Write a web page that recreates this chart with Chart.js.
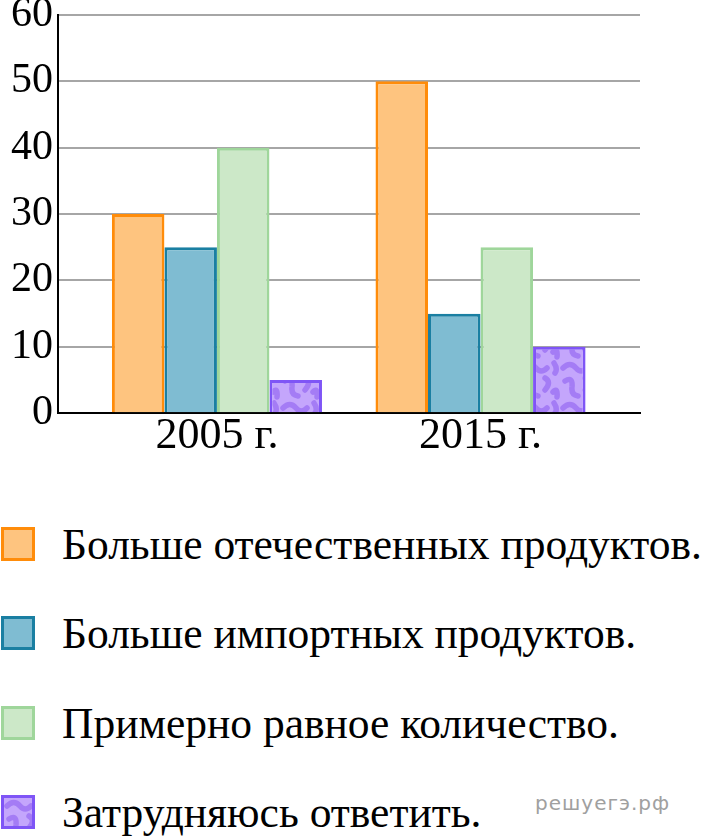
<!DOCTYPE html>
<html lang="ru">
<head>
<meta charset="utf-8">
<title>Опрос: продукты</title>
<script src="https://cdn.jsdelivr.net/npm/chart.js@4.4.1/dist/chart.umd.min.js"></script>
<style>
    body { margin: 0; background: #fff; width: 706px; height: 836px; position: relative; overflow: hidden; font-family: 'Liberation Serif', serif; }
    #chartBox { position: absolute; left: 0; top: 0; width: 706px; height: 452px; }
    #legend { position: absolute; left: 0; top: 499px; }
    .item { display: flex; align-items: center; height: 89.5px; }
    .swatch { box-sizing: border-box; width: 34px; height: 34px; border: 3px solid; margin-left: 1px; margin-right: 27px; }
    .label { font-size: 43.5px; color: #000; white-space: nowrap; }
    #mark { position: absolute; left: 535px; top: 791px; font-family: 'DejaVu Sans', sans-serif; font-size: 20px; color: #a0a0a0; letter-spacing: 1px; }
</style>
</head>
<body>
<div id="chartBox"><canvas id="surveyChart"></canvas></div>
<div id="legend"></div>
<div id="mark">решуегэ.рф</div>
<script>
// data
const years = ['2005 г.', '2015 г.'];
const yearPos = [0, 1];
const seriesNames = [
    'Больше отечественных продуктов.',
    'Больше импортных продуктов.',
    'Примерно равное количество.',
    'Затрудняюсь ответить.'
];
const domestic = [30, 50];
const imported = [25, 15];
const equal = [40, 25];
const unsure = [5, 10];

const serif = "'Liberation Serif', 'Times New Roman', serif";

// squiggly tile for the last series
function makeTile() {
    const tile = document.createElement('canvas');
    tile.width = 40;
    tile.height = 40;
    const c = tile.getContext('2d');
    c.fillStyle = '#c4a6fc';
    c.fillRect(0, 0, 40, 40);
    c.strokeStyle = '#a47cf5';
    c.lineWidth = 5.5;
    c.lineCap = 'round';
    c.lineJoin = 'round';
    c.beginPath();
    c.moveTo(3, 8); c.quadraticCurveTo(10, 1, 16, 8); c.quadraticCurveTo(21, 14, 27, 8);
    c.moveTo(25, 18); c.quadraticCurveTo(32, 22, 25, 30);
    c.moveTo(5, 21); c.quadraticCurveTo(13, 16, 12, 27); c.quadraticCurveTo(11, 35, 18, 36);
    c.moveTo(33, 32); c.quadraticCurveTo(38, 27, 37, 37);
    c.moveTo(34, 3); c.quadraticCurveTo(38, 9, 35, 13);
    c.stroke();
    return tile;
}

function drawChart() {
    const canvas = document.getElementById('surveyChart');
    const ctx = canvas.getContext('2d');
    const tile = makeTile();
    const pattern = ctx.createPattern(tile, 'repeat');

    const fills = ['#fec47f', '#7fbcd2', '#cce8c8', pattern];
    const borders = ['#ff8c0a', '#1a7fa2', '#9fd69b', '#7f55f6'];
    const values = [domestic, imported, equal, unsure];

    const toPoints = arr => yearPos.map((x, i) => ({ x: x, y: arr[i] }));

    const datasets = seriesNames.map((name, i) => ({
        label: name,
        data: toPoints(values[i]),
        backgroundColor: fills[i],
        borderColor: borders[i],
        borderWidth: 3
    }));

    new Chart(ctx, {
        type: 'bar',
        data: { datasets: datasets },
        options: {
            responsive: true,
            maintainAspectRatio: false,
            animation: false,
            layout: { padding: { left: 0, right: 66, top: 15, bottom: 0 } },
            plugins: {
                legend: { display: false },
                tooltip: { enabled: false }
            },
            datasets: {
                bar: { categoryPercentage: 0.797, barPercentage: 1 }
            },
            scales: {
                x: {
                    type: 'linear',
                    min: -0.603,
                    max: 1.605,
                    offset: false,
                    grid: { display: false, offset: false },
                    border: { color: '#000', width: 2 },
                    afterBuildTicks: function(scale) {
                        scale.ticks = yearPos.map(v => ({ value: v }));
                    },
                    ticks: {
                        callback: function(v) {
                            const i = yearPos.indexOf(v);
                            return i >= 0 ? years[i] : '';
                        },
                        autoSkip: false,
                        maxRotation: 0,
                        padding: -11,
                        color: '#000',
                        font: { family: serif, size: 44 }
                    }
                },
                y: {
                    min: 0,
                    max: 60,
                    afterFit: function(scale) {
                        scale.width = 58;
                        scale.paddingTop = 0;
                        scale.paddingBottom = 0;
                    },
                    grid: { color: '#a6a6a6', lineWidth: 2, drawTicks: false },
                    border: { color: '#000', width: 2 },
                    ticks: {
                        stepSize: 10,
                        padding: 5,
                        color: '#000',
                        font: { family: serif, size: 42 }
                    }
                }
            }
        }
    });

    // legend below the chart
    const legend = document.getElementById('legend');
    seriesNames.forEach((name, i) => {
        const row = document.createElement('div');
        row.className = 'item';
        const box = document.createElement('span');
        box.className = 'swatch';
        box.style.borderColor = borders[i];
        if (i === 3) {
            box.style.backgroundImage = 'url(' + tile.toDataURL() + ')';
        } else {
            box.style.backgroundColor = fills[i];
        }
        const text = document.createElement('span');
        text.className = 'label';
        text.textContent = name;
        row.appendChild(box);
        row.appendChild(text);
        legend.appendChild(row);
    });
}

document.addEventListener('DOMContentLoaded', function() {
    Promise.all([
        document.fonts.load('40px "Liberation Serif"'),
        document.fonts.load('20px "DejaVu Sans"')
    ]).then(drawChart, drawChart);
});
</script>
</body>
</html>
